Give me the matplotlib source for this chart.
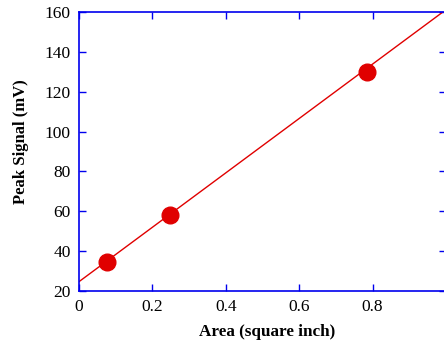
import numpy as np
import matplotlib as mpl
mpl.use("Agg")
import matplotlib.pyplot as plt

mpl.rc('font', family='Liberation Serif')

# data
area = [0.076, 0.248, 0.786]
peak_signal = [34.6, 58.0, 130.0]
fit_intercept = 24.7
fit_slope = 136.5
x_fit = np.array([0.0, 1.0])
y_fit = fit_intercept + fit_slope * x_fit

x_ticks = [0, 0.2, 0.4, 0.6, 0.8]
x_labels = ["0", "0.2", "0.4", "0.6", "0.8"]
y_ticks = [20, 40, 60, 80, 100, 120, 140, 160]

fig = plt.figure(figsize=(4.44, 3.45), dpi=100)
ax = fig.add_axes([0.178, 0.1565, 0.8265, 0.8085])

ax.plot(x_fit, y_fit, color='#e00000', lw=1.0)
ax.plot(area, peak_signal, 'o', color='#e00000', markersize=12, zorder=3)

ax.set_xlim(0, 1)
ax.set_ylim(20, 160)
ax.set_xticks(x_ticks)
ax.set_xticklabels(x_labels)
ax.set_yticks(y_ticks)

for s in ax.spines.values():
    s.set_color('#0000ee')
    s.set_linewidth(1.2)
ax.tick_params(direction='in', color='#0000ee', length=5, width=1,
               top=True, right=True, labelsize=12.5, pad=6)

ax.set_xlabel("Area (square inch)", fontsize=12.3, fontweight='bold')
ax.set_ylabel("Peak Signal (mV)", fontsize=12, fontweight='bold')
ax.xaxis.set_label_coords(0.512, -0.118)
ax.yaxis.set_label_coords(-0.135, 0.534)

fig.savefig("out.png", dpi=100)
